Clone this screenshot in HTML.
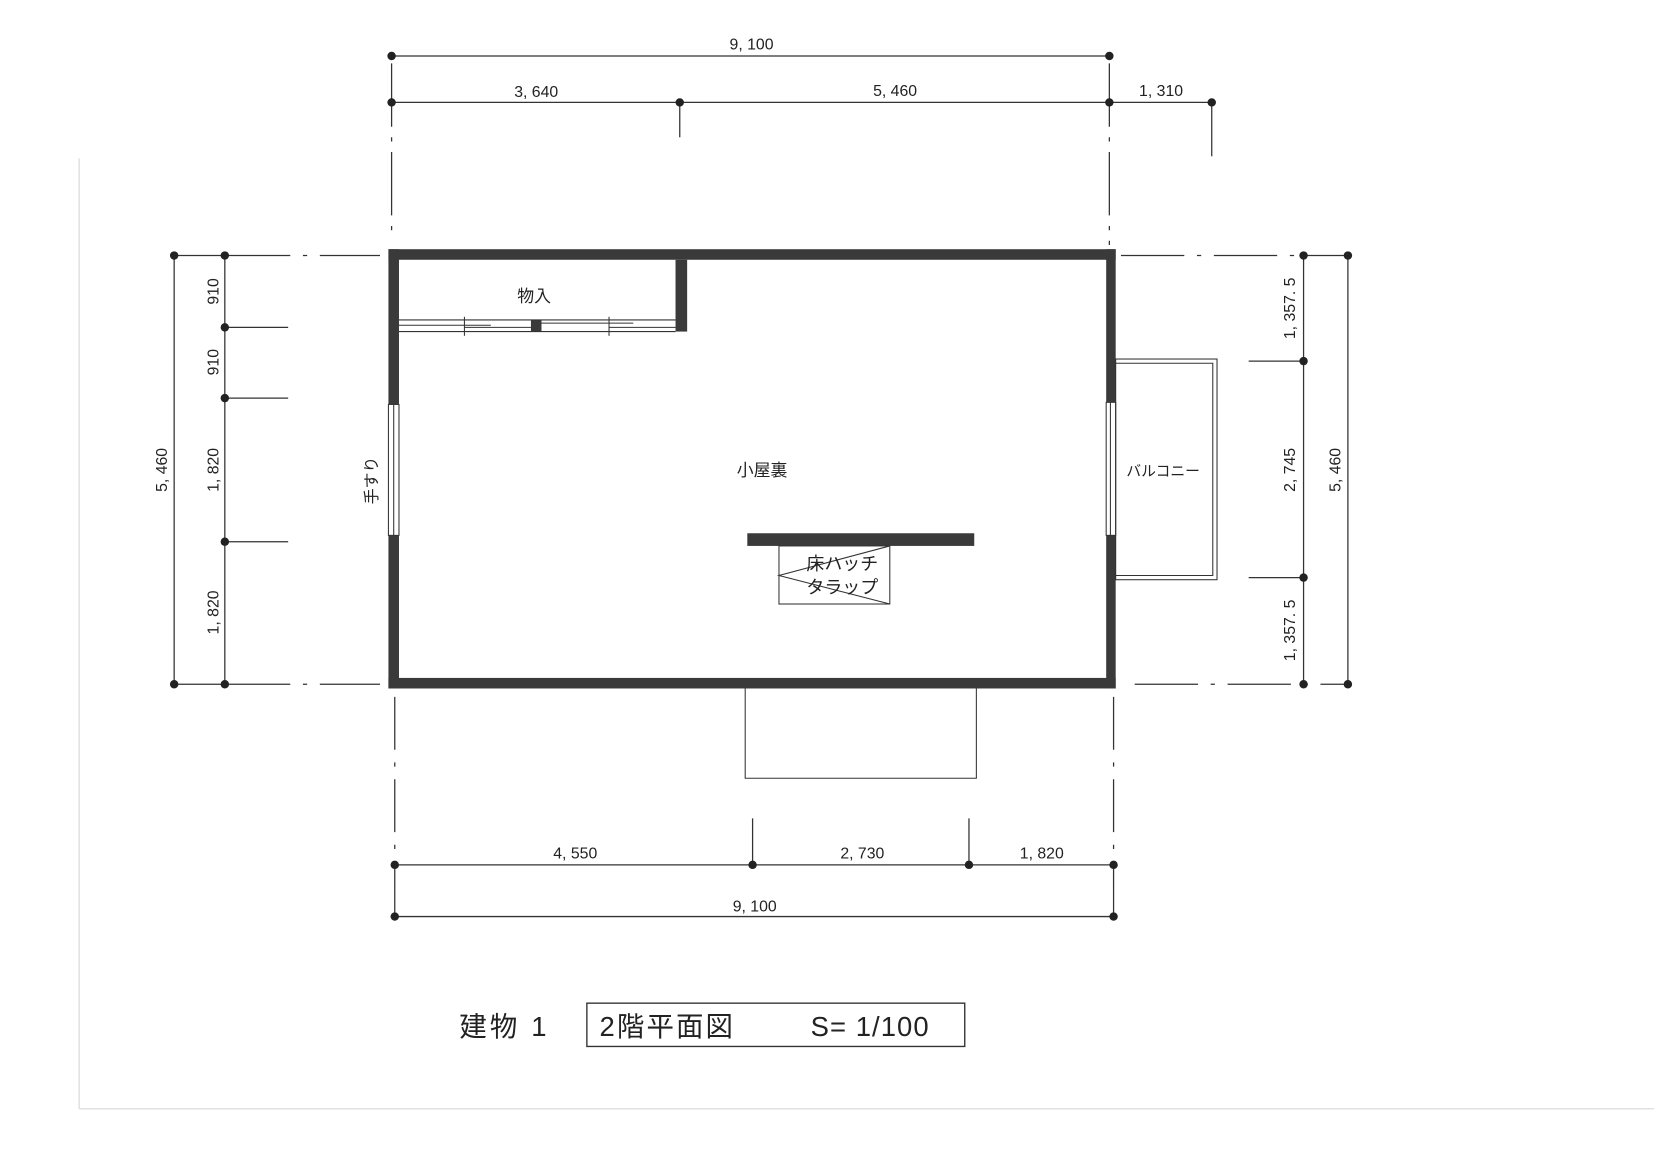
<!DOCTYPE html>
<html><head><meta charset="utf-8"><style>
html,body{margin:0;padding:0;background:#fff;}
svg{display:block;}
text{font-family:"Liberation Sans","Noto Sans CJK JP",sans-serif;fill:#222;}
</style></head><body>
<svg width="1654" height="1170" viewBox="0 0 1567 1108" preserveAspectRatio="none" xmlns="http://www.w3.org/2000/svg">
<g stroke="#e2e2e2" stroke-width="1.5"><line x1="75" y1="150" x2="75" y2="1050"/><line x1="75" y1="1050" x2="1567" y2="1050"/></g>
<g stroke="#333" stroke-width="1.2" fill="none">
<line x1="371" y1="53" x2="1051" y2="53"/>
<line x1="371" y1="97" x2="1148" y2="97"/>
<line x1="371" y1="60" x2="371" y2="220" stroke-dasharray="60 10 4 10"/>
<line x1="644" y1="97" x2="644" y2="130"/>
<line x1="1051" y1="60" x2="1051" y2="232" stroke-dasharray="60 10 4 10"/>
<line x1="1148" y1="97" x2="1148" y2="148"/>
<line x1="374" y1="819" x2="1055" y2="819"/>
<line x1="374" y1="868" x2="1055" y2="868"/>
<line x1="713" y1="775" x2="713" y2="819"/>
<line x1="918" y1="775" x2="918" y2="819"/>
<line x1="374" y1="660" x2="374" y2="868" stroke-dasharray="50 12 4 12"/>
<line x1="1055" y1="660" x2="1055" y2="868" stroke-dasharray="50 12 4 12"/>
<line x1="165" y1="242" x2="165" y2="648"/>
<line x1="213" y1="242" x2="213" y2="648"/>
<line x1="165" y1="242" x2="360" y2="242" stroke-dasharray="110 12 4 12"/>
<line x1="165" y1="648" x2="360" y2="648" stroke-dasharray="110 12 4 12"/>
<line x1="213" y1="310" x2="273" y2="310"/>
<line x1="213" y1="377" x2="273" y2="377"/>
<line x1="213" y1="513" x2="273" y2="513"/>
<line x1="1235" y1="242" x2="1235" y2="648"/>
<line x1="1277" y1="242" x2="1277" y2="648"/>
<line x1="1062" y1="242" x2="1277" y2="242" stroke-dasharray="60 12 4 12"/>
<line x1="1075" y1="648" x2="1277" y2="648" stroke-dasharray="60 12 4 12"/>
<line x1="1183" y1="342" x2="1235" y2="342"/>
<line x1="1183" y1="547" x2="1235" y2="547"/>
</g>
<g fill="#222">
<circle cx="371" cy="53" r="4"/><circle cx="1051" cy="53" r="4"/>
<circle cx="371" cy="97" r="4"/><circle cx="644" cy="97" r="4"/><circle cx="1051" cy="97" r="4"/><circle cx="1148" cy="97" r="4"/>
<circle cx="374" cy="819" r="4"/><circle cx="713" cy="819" r="4"/><circle cx="918" cy="819" r="4"/><circle cx="1055" cy="819" r="4"/>
<circle cx="374" cy="868" r="4"/><circle cx="1055" cy="868" r="4"/>
<circle cx="165" cy="242" r="4"/><circle cx="165" cy="648" r="4"/>
<circle cx="213" cy="242" r="4"/><circle cx="213" cy="310" r="4"/><circle cx="213" cy="377" r="4"/><circle cx="213" cy="513" r="4"/><circle cx="213" cy="648" r="4"/>
<circle cx="1235" cy="242" r="4"/><circle cx="1235" cy="342" r="4"/><circle cx="1235" cy="547" r="4"/><circle cx="1235" cy="648" r="4"/>
<circle cx="1277" cy="242" r="4"/><circle cx="1277" cy="648" r="4"/>
</g>
<g fill="#3a3a3a">
<rect x="368" y="236" width="689" height="10"/>
<rect x="368" y="642" width="689" height="10"/>
<rect x="368" y="236" width="10" height="147"/>
<rect x="368" y="507" width="10" height="145"/>
<rect x="1048" y="236" width="9" height="145"/>
<rect x="1048" y="507" width="9" height="145"/>
<rect x="640" y="246" width="11" height="68"/>
<rect x="503" y="303" width="10" height="11"/>
<rect x="708" y="505" width="215" height="12"/>
</g>
<g stroke="#333" stroke-width="1" fill="none">
<rect x="368" y="383" width="10" height="124"/><line x1="373" y1="383" x2="373" y2="507"/>
<rect x="1048" y="381" width="9" height="126"/><line x1="1052" y1="381" x2="1052" y2="507"/>
<line x1="378" y1="303" x2="640" y2="303"/><line x1="378" y1="314" x2="640" y2="314"/>
<line x1="378" y1="308" x2="465" y2="308"/><line x1="440" y1="310" x2="503" y2="310"/>
<line x1="513" y1="306" x2="600" y2="306"/><line x1="577" y1="310" x2="640" y2="310"/>
<line x1="440" y1="300" x2="440" y2="318"/><line x1="577" y1="300" x2="577" y2="318"/>
<rect x="1057" y="340" width="96" height="209"/>
<polyline points="1057,344 1149,344 1149,545 1057,545"/>
<rect x="738" y="517" width="105" height="55"/>
<polyline points="843,517 738,545 843,572"/>
<polyline points="706,652 706,737 925,737 925,652"/>
</g>
<g font-size="15" text-anchor="middle">
<text x="712" y="47">9, 100</text>
<text x="508" y="92">3, 640</text>
<text x="848" y="91">5, 460</text>
<text x="1100" y="91">1, 310</text>
<text x="545" y="813">4, 550</text>
<text x="817" y="813">2, 730</text>
<text x="987" y="813">1, 820</text>
<text x="715" y="863">9, 100</text>
<text transform="translate(158,445) rotate(-90)">5, 460</text>
<text transform="translate(207,276) rotate(-90)">910</text>
<text transform="translate(207,343) rotate(-90)">910</text>
<text transform="translate(207,445) rotate(-90)">1, 820</text>
<text transform="translate(207,580) rotate(-90)">1, 820</text>
<text transform="translate(1227,292) rotate(-90)">1, 357. 5</text>
<text transform="translate(1227,445) rotate(-90)">2, 745</text>
<text transform="translate(1227,597) rotate(-90)">1, 357. 5</text>
<text transform="translate(1270,445) rotate(-90)">5, 460</text>
<text x="506" y="286" font-size="16">物入</text>
<text x="722" y="451" font-size="16">小屋裏</text>
<text x="1102" y="451" font-size="14">バルコニー</text>
<text transform="translate(357,455) rotate(-90)" font-size="15">手すり</text>
<text x="798" y="540" font-size="17">床ハッチ</text>
<text x="798" y="562" font-size="17">タラップ</text>
</g>
<text x="478" y="981" font-size="26" text-anchor="middle" letter-spacing="3">建物 1</text>
<rect x="556" y="950" width="358" height="41" fill="none" stroke="#333" stroke-width="1.3"/>
<text x="568" y="981" font-size="26" letter-spacing="2">2階平面図</text>
<text x="768" y="981" font-size="26" letter-spacing="1">S= 1/100</text>
</svg>
</body></html>
